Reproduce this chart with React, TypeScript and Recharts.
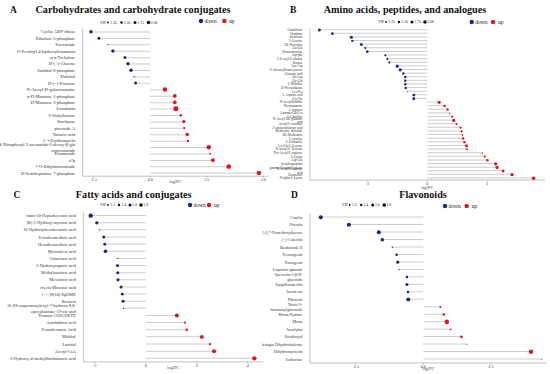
import React from 'react';
import { ComposedChart, Bar, Line, XAxis, YAxis } from 'recharts';

const FONT = '"Liberation Serif", "Times New Roman", serif';
const DOWN = '#1b2a80';
const UP = '#e3151b';

// A: carbohydrates
const carbNames = [
  'Cyclic ADP-ribose', 'Ribulose-5-phosphate', 'Swertoside', 'O-Feruloyl 4-hydroxylcoumarin',
  'α,α-Trehalose', 'D-(+)-Glucose', 'Sorbitol-6-phosphate', 'Dulcitol', 'D-(−)-Fructose',
  'N-Acetyl-D-galactosamine', 'α-D-Mannose 1-phosphate', 'D-Mannose 6-phosphate', 'Linamarin',
  '6-Sialyllactose', 'Stachyose', 'picroside A', 'Tartaric acid', '(−)-Erythromycin',
  '4-Nitrophenyl 2-acetamido-2-deoxy-β-glu\ncopyranoside', 'Sesamoside', 'a7p',
  '7-O-Ethylmorroniside', 'D-Sedoheptulose 7-phosphate'
];
const carbFC = [-1.57, -1.36, -1.12, -0.99, -0.67, -0.59, -0.51, -0.43, -0.39,
  0.39, 0.65, 0.65, 0.68, 0.81, 0.89, 0.9, 0.98, 1.0, 1.55, 1.59, 1.66, 2.08, 2.88];
const carbVip = [1.6, 1.5, 1.05, 1.6, 1.5, 1.6, 1.6, 1.1, 1.5,
  1.85, 1.7, 1.7, 2.0, 1.35, 1.55, 1.3, 1.6, 1.35, 1.85, 1.2, 1.7, 1.95, 1.85];

// B: amino acids
const aminoNames = [
  'Glutathione', 'Ornithine', 'melatonin', 'L-Leucine', 'DL-Norvaline', 'Ala-Gln', 'Homocarnosine',
  'Asp-phe', 'L-Leucyl-L-alanine', 'Betaine', 'Lys-Asp', 'S-Adenosylhomocysteine', 'Glutamic acid',
  'Ala-Asp', 'Gly-Gln', 'L-Histidine', 'D-Phenylalanine', 'Leu-Pro', 'L-Aspartic acid', 'Gly-Tyr',
  'N-Acetylhistidine', 'Nicotianamine', 'L-arginine', 'Gamma-Glu-Leu', 'L-Citrulline',
  'N-Acetyl-DL-glutamic\nacid', 'Acetyl-L-carnitine', '2-Aminoisobutyric acid', 'Methionine sulfoxide',
  'DL-Methionine', 'L-cysteine', 'L-Glutamine', 'L-γ-Glu-L-Leucine', 'N-Acetyl-L-Tyrosine',
  'N-α-Acetyl-L-arginine', 'L-Lysine', 'Asp-Gln', 'Acetyltryptophan', 'gamma-Glutamylcysteine',
  'N-Acetyl-L-aspartic\nacid', 'Desmosine', 'N-alpha-L-Lysine'
];
const aminoFC = [-5.4, -4.75, -3.8, -3.75, -3.3, -3.1, -3.0, -2.1, -2.0, -1.9, -1.5, -1.35, -1.2,
  -1.1, -1.1, -1.1, -1.08, -0.98, -0.67, -0.67,
  0.6, 0.87, 1.02, 1.13, 1.25, 1.33, 1.47, 1.67, 1.73, 1.77, 1.8, 1.87, 1.97, 2.0, 2.77, 2.88,
  3.02, 3.43, 3.5, 3.8, 4.25, 5.33];
const aminoVip = [1.8, 1.7, 1.85, 1.6, 1.75, 1.5, 1.7, 1.5, 1.5, 1.5, 1.85, 1.85, 1.6, 1.6, 1.6,
  1.6, 1.6, 1.1, 1.75, 1.75,
  1.85, 1.6, 1.6, 1.2, 1.5, 1.85, 1.5, 1.55, 1.55, 1.35, 1.6, 1.6, 1.8, 1.45, 1.3, 1.5, 1.6,
  1.9, 1.9, 1.75, 1.9, 1.95];

// C: fatty acids
const fattyNames = [
  'trans-10-Heptadecenoic acid', '(R)-3-Hydroxy myristic acid', '16-Hydroxyhexadecanoic acid',
  'Tetradecanedioic acid', 'Hexadecanedioic acid', 'Myristoleic acid', 'Citraconic acid',
  '2-Hydroxycaproic acid', 'Methylsuccinic acid', 'Mevalonic acid', 'cis,cis-Muconic acid',
  '(+/−)9(10)-EpOME', 'Rosavin', '16-(Hexopyranosyloxy)-7-hydroxy-8,8-\nepoxykaurane-19-oic acid',
  'Tetranor-12(S)-HETE', 'Arachidonic acid', 'Pentadecanoic Acid', 'Maltitol', 'Lactitol',
  'Acetyl-CoA', '2-Hydroxy-4-methylthiobutanoic acid'
];
const fattyFC = [-2.16, -1.92, -1.82, -1.65, -1.61, -1.58, -1.12, -1.11, -1.1, -1.09, -0.97,
  -0.92, -0.89, -0.87, 1.22, 1.54, 1.61, 2.2, 2.52, 2.68, 4.26];
const fattyVip = [1.75, 1.55, 1.1, 1.5, 1.45, 1.6, 1.1, 1.5, 1.5, 1.5, 1.5, 1.45, 1.5, 1.15,
  1.7, 1.3, 1.4, 1.65, 1.35, 1.7, 1.75];

// D: flavonoids
const flavNames = [
  'Corylin', 'Orientin', '5,6,7-Trimethoxyflavone', '(+)-Catechin', 'Baohuoside II', 'Tectorigenin',
  'Naringenin', 'Liquiritin apioside', 'Quercetin-3-β-D-\nglucoside', 'Epigallocatechin',
  'Isovitexin', 'Phloretin', 'Tricin O-\nrhamnosylglucoside', 'Morin Hydrate', 'Morin',
  'Isosilybin', 'Eriodictyol', 'Naringin Dihydrochalcone', 'Dihydromyricetin', 'Isoflavone'
];
const flavFC = [-3.8, -2.76, -1.65, -1.52, -1.15, -0.99, -0.95, -0.9, -0.61, -0.61, -0.57, -0.56,
  0.63, 0.76, 0.87, 1.01, 1.41, 1.61, 3.99, 4.39];
const flavVip = [1.7, 1.7, 1.7, 1.6, 1.15, 1.4, 1.5, 1.15, 1.4, 1.5, 1.4, 1.7,
  1.3, 1.4, 1.8, 1.25, 1.45, 1.1, 1.75, 1.1];

const makeRows = (names: string[], fc: number[], vip: number[]) =>
  names.map((name, i) => ({ name, value: fc[i], vip: vip[i] }));

const LabelTick = (props: any) => {
  const { x, y, payload, fs, lhf } = props;
  const lines = String(payload.value).split('\n');
  const lh = fs * lhf;
  return (
    <text x={x} y={y} textAnchor="end" fontSize={fs} fill="#333" fontFamily={FONT}>
      {lines.map((l, i) => (
        <tspan key={i} x={x} dy={i === 0 ? -((lines.length - 1) / 2) * lh + fs * 0.35 : lh}>{l}</tspan>
      ))}
    </text>
  );
};

interface PanelProps {
  rows: { name: string; value: number; vip: number }[];
  left: number; top: number; width: number; height: number;
  margin: { top: number; right: number; bottom: number; left: number };
  yWidth: number;
  axisH?: number;
  domain: [number, number];
  ticks: number[];
  fmt: (v: number) => string;
  fs: number;
  lhf?: number;
  radius: (vip: number) => number;
}

const Panel: React.FC<PanelProps> = ({ rows, left, top, width, height, margin, yWidth, axisH = 7, domain, ticks, fmt, fs, lhf = 1.3, radius }) => (
  <div style={{ position: 'absolute', left, top }}>
    <ComposedChart width={width} height={height} data={rows} layout="vertical" margin={margin}>
      <XAxis
        type="number" domain={domain} ticks={ticks} tickFormatter={fmt} allowDataOverflow
        axisLine={{ stroke: '#999', strokeWidth: 0.6 }} tickLine={{ stroke: '#999', strokeWidth: 0.6 }}
        tickSize={1.5} tickMargin={0.3} height={axisH}
        tick={{ fontSize: 4, fill: '#333', fontFamily: FONT }}
        label={{ value: 'log2FC', position: 'insideBottom', offset: 0, fontSize: 4, fill: '#333', fontFamily: FONT }}
      />
      <YAxis
        type="category" dataKey="name" width={yWidth} interval={0} tickLine={false}
        axisLine={{ stroke: '#999', strokeWidth: 0.6 }} tickMargin={1.5}
        tick={(p: any) => <LabelTick {...p} fs={fs} lhf={lhf} />}
      />
      <Bar dataKey="value" barSize={1} fill="#cccccc" isAnimationActive={false} />
      <Line
        dataKey="value" stroke="none" activeDot={false} isAnimationActive={false}
        dot={(p: any) => {
          const { cx, cy, payload, index } = p;
          if (cx == null || cy == null) return <g key={`e${index}`} />;
          return <circle key={`d${index}`} cx={cx} cy={cy} r={radius(payload.vip)} fill={payload.value < 0 ? DOWN : UP} />;
        }}
      />
    </ComposedChart>
  </div>
);

const VipLegend = ({ x, y, step, labels, radii }: { x: number; y: number; step: number; labels: string[]; radii: number[] }) => (
  <g fontFamily={FONT} fontSize={3.8} fill="#222">
    <text x={x} y={y + 1.3}>VIP</text>
    {labels.map((l, i) => (
      <g key={l}>
        <circle cx={x + 8 + i * step} cy={y} r={radii[i]} fill="#111" />
        <text x={x + 10.3 + i * step} y={y + 1.3}>{l}</text>
      </g>
    ))}
  </g>
);

const DirLegend = ({ xd, xu, y }: { xd: number; xu: number; y: number }) => (
  <g fontFamily={FONT} fontSize={5.5} fill="#222">
    <circle cx={xd} cy={y} r={2.2} fill={DOWN} />
    <text x={xd + 3.5} y={y + 1.8}>down</text>
    <circle cx={xu} cy={y} r={2.2} fill={UP} />
    <text x={xu + 5} y={y + 1.8}>up</text>
  </g>
);

export default function App() {
  const f1 = (v: number) => v.toFixed(1);
  const f0 = (v: number) => String(v);
  return (
    <div style={{ position: 'absolute', left: 0, top: 0, width: 550, height: 374, background: '#fff', overflow: 'hidden' }}>
      <Panel
        rows={makeRows(carbNames, carbFC, carbVip)} left={0} top={0} width={275} height={190}
        margin={{ top: 28.5, right: 7, bottom: 6.8, left: 0 }} yWidth={82.7}
        domain={[-1.79, 3.12]} ticks={[-1.5, 0, 1.5, 3]} fmt={f1} fs={4.5}
        radius={(v) => Math.max(0.6, 1 + (v - 1.25) * 2)}
      />
      <Panel
        rows={makeRows(aminoNames, aminoFC, aminoVip)} left={262} top={0} width={288} height={190}
        margin={{ top: 28.2, right: 5, bottom: 1.1, left: 0 }} yWidth={48} axisH={8.8}
        domain={[-5.87, 5.9]} ticks={[-3, 0, 3]} fmt={f0} fs={3.2} lhf={1.05}
        radius={(v) => Math.max(0.5, 0.7 + (v - 1.25) * 1.5)}
      />
      <Panel
        rows={makeRows(fattyNames, fattyFC, fattyVip)} left={0} top={185} width={275} height={189}
        margin={{ top: 27.1, right: 11.7, bottom: 5.1, left: 0 }} yWidth={83.3}
        domain={[-2.45, 4.61]} ticks={[-2, 0, 2, 4]} fmt={f0} fs={4.3}
        radius={(v) => Math.max(0.6, 0.8 + (v - 1.2) * 2.5)}
      />
      <Panel
        rows={makeRows(flavNames, flavFC, flavVip)} left={262} top={185} width={288} height={189}
        margin={{ top: 28.6, right: 3.3, bottom: 4, left: 0 }} yWidth={48}
        domain={[-4.2, 4.57]} ticks={[-2.5, 0, 2.5]} fmt={f1} fs={4.0}
        radius={(v) => Math.max(0.6, 0.8 + (v - 1.2) * 2.5)}
      />
      <svg width={550} height={374} style={{ position: 'absolute', left: 0, top: 0, pointerEvents: 'none' }}>
        <g fontFamily={FONT} fill="#111" fontWeight="bold">
          <text x={10} y={12.7} fontSize={9.5}>A</text>
          <text x={290} y={13.3} fontSize={9.5}>B</text>
          <text x={13.5} y={197.7} fontSize={9.5}>C</text>
          <text x={291} y={197.7} fontSize={9.5}>D</text>
          <text x={133} y={12.7} fontSize={10.2} textAnchor="middle">Carbohydrates and carbohydrate conjugates</text>
          <text x={405} y={13} fontSize={10.2} textAnchor="middle">Amino acids, peptides, and analogues</text>
          <text x={133.7} y={197.7} fontSize={10.2} textAnchor="middle">Fatty acids and conjugates</text>
          <text x={423} y={197.7} fontSize={10.2} textAnchor="middle">Flavonoids</text>
        </g>
        <VipLegend x={100} y={22.5} step={13.5} labels={['1.25', '1.50', '1.75', '2.00']} radii={[0.9, 1.2, 1.5, 1.8]} />
        <VipLegend x={378} y={22} step={13} labels={['1.25', '1.50', '1.75', '2.00']} radii={[0.9, 1.2, 1.5, 1.8]} />
        <VipLegend x={100} y={205} step={11} labels={['1.2', '1.4', '1.6', '1.8']} radii={[0.9, 1.2, 1.5, 1.8]} />
        <VipLegend x={341.7} y={205} step={11.5} labels={['1.2', '1.4', '1.6', '1.8']} radii={[0.9, 1.2, 1.5, 1.8]} />
        <DirLegend xd={201} xu={224.3} y={21} />
        <DirLegend xd={471.7} xu={493} y={22} />
        <DirLegend xd={190} xu={209} y={205} />
        <DirLegend xd={445} xu={466.7} y={206} />
      </svg>
    </div>
  );
}
